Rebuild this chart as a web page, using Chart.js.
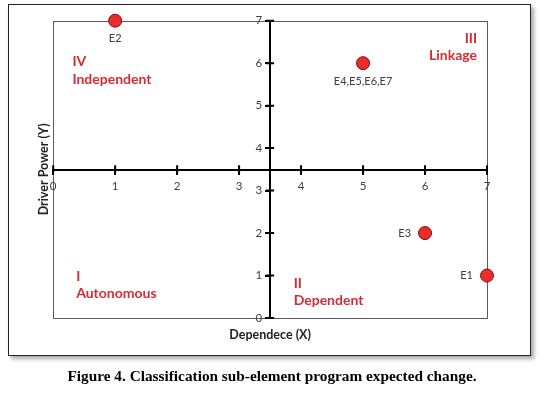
<!DOCTYPE html>
<html>
<head>
<meta charset="utf-8">
<script src="https://cdn.jsdelivr.net/npm/chart.js@4.4.1/dist/chart.umd.min.js"></script>
<style>
  body { margin: 0; background: #fff; }
  #wrap { position: relative; width: 544px; height: 393px; }
  #frame {
    position: absolute; left: 8px; top: 4px; width: 521px; height: 350px;
    border: 1px solid #222; box-shadow: 3px 3px 4px #aaa; background: #fff;
  }
  #chart { position: absolute; left: 0; top: 0; }
  #caption {
    position: absolute; left: 0; top: 367px; width: 544px; text-align: center;
    font: bold 15.3px "Liberation Serif", "Times New Roman", serif; color: #000;
  }
</style>
</head>
<body>
<div id="wrap">
  <div id="frame"></div>
  <canvas id="chart" width="544" height="393"></canvas>
  <div id="caption">Figure 4. Classification sub-element program expected change.</div>
</div>
<script>
const pointNames = ['E1', 'E2', 'E3', 'E4,E5,E6,E7'];
const dependence = [7, 1, 6, 5];
const driverPower = [1, 7, 2, 6];
const labelSides = ['left', 'below', 'left', 'below'];

const axisMin = 0;
const axisMax = 7;
const axisMid = 3.5;

const quadrantNumbers = ['I', 'II', 'III', 'IV'];
const quadrantNames = ['Autonomous', 'Dependent', 'Linkage', 'Independent'];
// where each quadrant caption sits, in data units
const quadrantAnchors = [[0.37, 0.98, 'left'], [3.88, 0.82, 'left'], [6.84, 6.59, 'right'], [0.31, 6.03, 'left']];

const tickColor = '#404040';
const quadColor = '#d62b35';

const points = dependence.map((x, i) => ({ x: x, y: driverPower[i] }));

// gray box around the plot and tick marks that cross the axes
const framePlugin = {
  id: 'frame',
  beforeDraw(chart) {
    const { ctx, chartArea: a } = chart;
    ctx.save();
    ctx.strokeStyle = '#5a5a5a';
    ctx.lineWidth = 1;
    ctx.strokeRect(Math.round(a.left) + 0.5, Math.round(a.top) + 0.5,
      Math.round(a.right - a.left), Math.round(a.bottom - a.top));
    ctx.restore();
  },
  afterDraw(chart) {
    const { ctx, scales } = chart;
    const ay = scales.y.getPixelForValue(axisMid);
    const ax = scales.x.getPixelForValue(axisMid);
    ctx.save();
    ctx.strokeStyle = '#000';
    ctx.lineWidth = 2;
    for (let v = axisMin; v <= axisMax; v++) {
      const px = scales.x.getPixelForValue(v);
      const py = scales.y.getPixelForValue(v);
      ctx.beginPath();
      ctx.moveTo(px, ay - 4); ctx.lineTo(px, ay + 4);
      ctx.moveTo(ax - 4, py); ctx.lineTo(ax + 4, py);
      ctx.stroke();
    }
    ctx.restore();
  }
};

const labelPlugin = {
  id: 'labels',
  afterDatasetsDraw(chart) {
    const { ctx, scales } = chart;
    const meta = chart.getDatasetMeta(0);
    ctx.save();
    ctx.font = '11px Lato';
    ctx.fillStyle = tickColor;
    ctx.textBaseline = 'middle';
    meta.data.forEach((el, i) => {
      if (labelSides[i] === 'below') {
        ctx.textAlign = 'center';
        ctx.fillText(pointNames[i], el.x, el.y + 18);
      } else {
        ctx.textAlign = 'right';
        ctx.fillText(pointNames[i], el.x - 14, el.y);
      }
    });
    ctx.font = 'bold 14px Lato';
    ctx.fillStyle = quadColor;
    quadrantAnchors.forEach((q, i) => {
      const x = scales.x.getPixelForValue(q[0]);
      const y = scales.y.getPixelForValue(q[1]);
      ctx.textAlign = q[2];
      ctx.fillText(quadrantNumbers[i], x, y);
      ctx.fillText(quadrantNames[i], x, y + 17.5);
    });
    ctx.restore();
  }
};

new Chart(document.getElementById('chart'), {
  type: 'scatter',
  data: {
    datasets: [{
      data: points,
      backgroundColor: '#ec2b2b',
      borderColor: '#7a1010',
      borderWidth: 1,
      pointRadius: 6.5,
      clip: false
    }]
  },
  options: {
    responsive: false,
    animation: false,
    layout: { padding: { left: 36.4, top: 20.7, right: 57, bottom: 50.5 } },
    plugins: { legend: { display: false }, tooltip: { enabled: false } },
    scales: {
      x: {
        type: 'linear', min: axisMin, max: axisMax, position: 'center',
        ticks: { stepSize: 1, color: tickColor, padding: 6, font: { family: 'Lato', size: 11.5 } },
        grid: { drawOnChartArea: false, tickLength: 4, color: '#000', lineWidth: 2 },
        border: { color: '#000', width: 2 }
      },
      y: {
        type: 'linear', min: axisMin, max: axisMax, position: 'center',
        ticks: { stepSize: 1, color: tickColor, padding: 4, font: { family: 'Lato', size: 11.5 } },
        grid: { drawOnChartArea: false, tickLength: 4, color: '#000', lineWidth: 2 },
        border: { color: '#000', width: 2 }
      },
      xTitle: {
        type: 'linear', axis: 'x', position: 'bottom', min: axisMin, max: axisMax,
        ticks: { display: false }, grid: { display: false, drawTicks: false }, border: { display: false },
        title: { display: true, text: 'Dependece (X)', color: '#222', padding: { top: 9.5, bottom: 0 },
          font: { family: 'Lato', size: 12.5, weight: 'bold' } }
      },
      yTitle: {
        type: 'linear', axis: 'y', position: 'left', min: axisMin, max: axisMax,
        ticks: { display: false }, grid: { display: false, drawTicks: false }, border: { display: false },
        title: { display: true, text: 'Driver Power (Y)', color: '#222', padding: { top: 0, bottom: 1.8 },
          font: { family: 'Lato', size: 12.5, weight: 'bold' } }
      }
    }
  },
  plugins: [framePlugin, labelPlugin]
});
</script>
</body>
</html>
